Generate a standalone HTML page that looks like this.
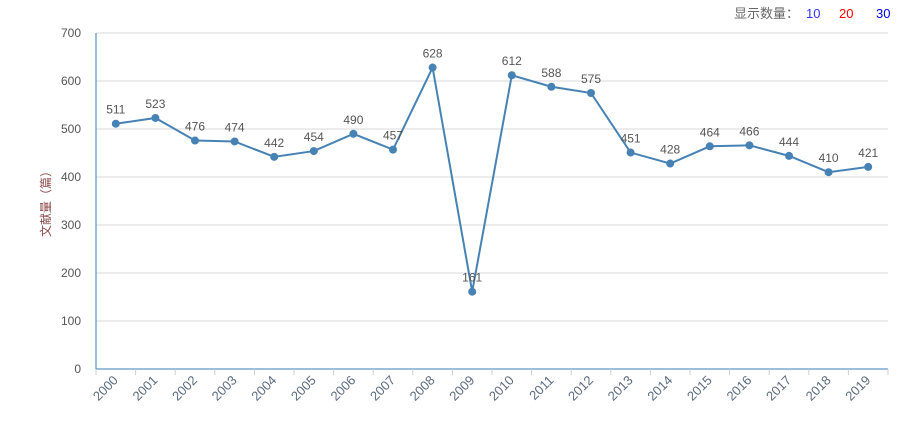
<!DOCTYPE html>
<html><head><meta charset="utf-8"><style>
body{margin:0;background:#fff;width:907px;height:421px;overflow:hidden;font-family:"Liberation Sans","Noto Sans CJK SC",sans-serif;}
</style></head><body>
<svg id="chart" width="907" height="421" xmlns="http://www.w3.org/2000/svg">
<g font-size="13">
<text x="734" y="18" fill="#666" font-family="Liberation Sans,Noto Sans CJK SC,sans-serif">显示数量：</text>
<text x="806" y="18" fill="#3333ff">10</text>
<text x="839" y="18" fill="#ff0000">20</text>
<text x="876" y="18" fill="#0000dd">30</text>
</g>
<text transform="translate(50,201) rotate(-90)" text-anchor="middle" font-size="12" fill="#8a4a4a">文献量（篇）</text>
<g id="grid"></g><g id="axes"></g><g id="series"></g>
</svg>
<script>
const categories=["2000","2001","2002","2003","2004","2005","2006","2007","2008","2009","2010","2011","2012","2013","2014","2015","2016","2017","2018","2019"];
const values=[511,523,476,474,442,454,490,457,628,161,612,588,575,451,428,464,466,444,410,421];
const yTicks=[0,100,200,300,400,500,600,700];
const NS="http://www.w3.org/2000/svg";
const L=96,R=888,T=33,B=369,yMax=700;
const bw=(R-L)/categories.length;
const xs=i=>L+bw*(i+0.5);
const ys=v=>B-(v/yMax)*(B-T);
function mk(tag,attrs,parent,txt){const e=document.createElementNS(NS,tag);for(const k in attrs)e.setAttribute(k,attrs[k]);if(txt!=null)e.textContent=txt;parent.appendChild(e);return e;}
const grid=document.getElementById('grid'),axes=document.getElementById('axes'),ser=document.getElementById('series');
yTicks.forEach(t=>{
 const y=ys(t);
 if(t>0){const g=mk('line',{x1:L,x2:R,y1:y,y2:y,stroke:'#d9d9d9','stroke-width':1},grid);
 
 }
 const lb=mk('text',{x:81,y:y+4,'text-anchor':'end','font-size':12,fill:'#555'},axes,t);
 
 
});
const ya=mk('line',{x1:L,x2:L,y1:T,y2:B,stroke:'#3a7fb5','stroke-width':1},axes);


const xa=mk('line',{x1:L,x2:R,y1:B,y2:B,stroke:'#3a7fb5','stroke-width':1},axes);


for(let i=0;i<=categories.length;i++){const x=L+bw*i;const tk=mk('line',{x1:x,x2:x,y1:B,y2:B+6,stroke:'#c8d0da'},axes);
 
 }
categories.forEach((c,i)=>{
 const x=xs(i)+3,y=B+12;
 const t=mk('text',{x:x,y:y,'text-anchor':'end','font-size':13,fill:'#5a6a80',transform:`rotate(-45 ${x} ${y})`},axes,c);
 
 
});
const pl=mk('polyline',{points:values.map((v,i)=>xs(i)+','+ys(v)).join(' '),fill:'none',stroke:'#4682b4','stroke-width':2},ser);


values.forEach((v,i)=>{
 const p=mk('circle',{cx:xs(i),cy:ys(v),r:4,fill:'#4682b4'},ser);
 
 
 const t=mk('text',{x:xs(i),y:ys(v)-10,'text-anchor':'middle','font-size':12,fill:'#555'},ser,v);
 
 
});
</script>
</body></html>
